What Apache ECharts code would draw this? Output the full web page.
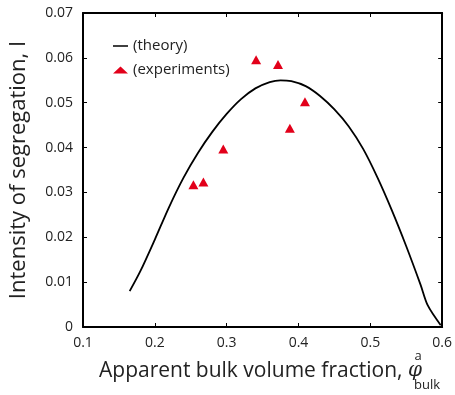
<!DOCTYPE html>
<html>
<head>
<meta charset="utf-8">
<script src="https://cdn.jsdelivr.net/npm/echarts@6/dist/echarts.min.js"></script>
<style>
  html, body { margin: 0; padding: 0; background: #fff; }
  #chart { width: 455px; height: 395px; }
</style>
</head>
<body>
<div id="chart"></div>
<script>
// Theory curve: segregation intensity vs apparent bulk volume fraction
var theoryX = [0.165, 0.18, 0.20, 0.22, 0.24, 0.26, 0.28, 0.30, 0.32, 0.34, 0.36, 0.375,
               0.39, 0.41, 0.43, 0.45, 0.47, 0.49, 0.51, 0.53, 0.55, 0.57, 0.58, 0.598];
var theoryY = [0.0080, 0.0125, 0.0195, 0.0268, 0.0333, 0.0388, 0.0435, 0.0475, 0.0508, 0.0532,
               0.0546, 0.0550, 0.0548, 0.0537, 0.0515, 0.0485, 0.0447, 0.0397, 0.0333, 0.0260,
               0.0180, 0.0094, 0.0048, 0.0004];

// Experimental measurements
var expX = [0.2537, 0.2676, 0.2953, 0.341, 0.3715, 0.388, 0.409];
var expY = [0.0317, 0.0323, 0.0397, 0.0596, 0.0585, 0.0443, 0.0502];

var xTicks = { min: 0.1, max: 0.6, step: 0.1 };
var yTicks = { min: 0, max: 0.07, step: 0.01 };

var FONT = '"Open Sans"';
var INK = '#222';

var chart = echarts.init(document.getElementById('chart'), null, { renderer: 'canvas' });

function pairs(xs, ys) {
  return xs.map(function (x, i) { return [x, ys[i]]; });
}

var boxAxisLine = { show: true, onZero: false, lineStyle: { color: '#000', width: 2 } };
var boxTick = { show: true, inside: true, length: 4, lineStyle: { color: '#000', width: 1 } };

chart.setOption({
  animation: false,
  backgroundColor: '#fff',
  grid: { left: 83, right: 11, top: 13, bottom: 68, containLabel: false },
  legend: {
    left: 108, top: 33, orient: 'vertical',
    itemWidth: 15, itemHeight: 7, itemGap: 8,
    textStyle: { fontFamily: FONT, fontSize: 15, color: INK, lineHeight: 16 },
    data: [
      { name: '(theory)', icon: 'path://M0,0H20V2H0Z', itemStyle: { color: '#000' } },
      { name: '(experiments)', icon: 'triangle' }
    ]
  },
  xAxis: [{
    type: 'value', position: 'bottom',
    min: xTicks.min, max: xTicks.max, interval: xTicks.step,
    axisLine: boxAxisLine, axisTick: boxTick, splitLine: { show: false },
    axisLabel: {
      margin: 9, fontFamily: FONT, fontSize: 14, color: INK,
      formatter: function (v) { return v.toFixed(1); }
    }
  }, {
    type: 'value', position: 'top',
    min: xTicks.min, max: xTicks.max, interval: xTicks.step,
    axisLine: boxAxisLine, axisTick: boxTick, splitLine: { show: false },
    axisLabel: { show: false }
  }],
  yAxis: [{
    type: 'value', position: 'left',
    min: yTicks.min, max: yTicks.max, interval: yTicks.step,
    axisLine: boxAxisLine, axisTick: boxTick, splitLine: { show: false },
    axisLabel: {
      margin: 10, fontFamily: FONT, fontSize: 14, color: INK,
      formatter: function (v) { return v === 0 ? '0' : v.toFixed(2); }
    },
    name: 'Intensity of segregation, I',
    nameLocation: 'middle', nameGap: 53,
    nameTextStyle: { fontFamily: FONT, fontSize: 22, color: INK }
  }, {
    type: 'value', position: 'right',
    min: yTicks.min, max: yTicks.max, interval: yTicks.step,
    axisLine: boxAxisLine, axisTick: boxTick, splitLine: { show: false },
    axisLabel: { show: false }
  }],
  graphic: [{
    type: 'text', x: 99, y: 371,
    style: {
      text: 'Apparent bulk volume fraction, {phi|φ}',
      rich: { phi: { fontFamily: 'DejaVu Serif', fontStyle: 'italic', fontSize: 20, fill: INK } },
      font: '21px ' + FONT, fill: INK, align: 'left', verticalAlign: 'middle'
    }
  }, {
    type: 'text', x: 418, y: 356,
    style: { text: 'a', font: '13px ' + FONT, fill: INK, align: 'center', verticalAlign: 'middle' }
  }, {
    type: 'text', x: 414, y: 385,
    style: { text: 'bulk', font: '13px ' + FONT, fill: INK, align: 'left', verticalAlign: 'middle' }
  }],
  series: [{
    name: '(theory)', type: 'line',
    data: pairs(theoryX, theoryY),
    smooth: 0.3, showSymbol: false, symbol: 'none',
    lineStyle: { color: '#000', width: 1.8 },
    itemStyle: { color: '#000' }
  }, {
    name: '(experiments)', type: 'scatter',
    data: pairs(expX, expY),
    symbol: 'triangle', symbolSize: [10, 9],
    itemStyle: { color: '#e2001a', opacity: 1 }
  }]
});
</script>
</body>
</html>
